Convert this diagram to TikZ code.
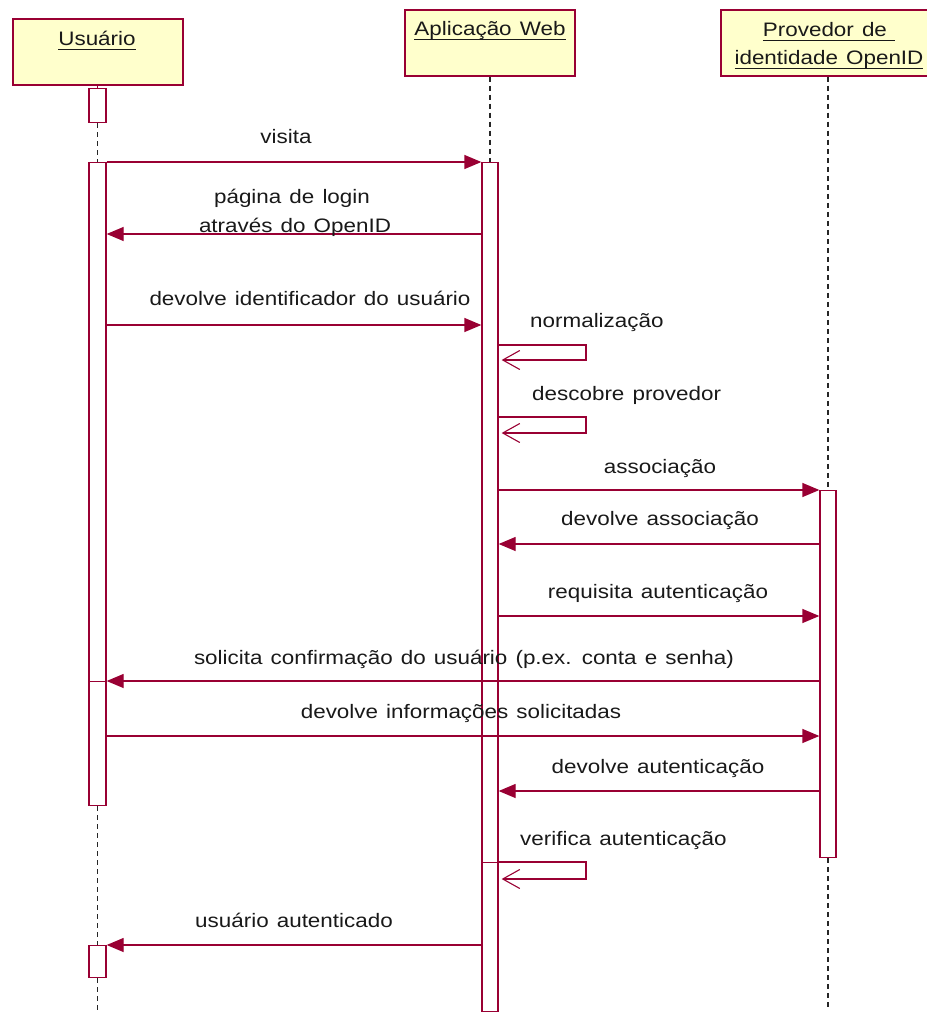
\documentclass[tikz,border=0pt]{standalone}
\usepackage{fontspec}
\setmainfont[FakeStretch=1.15,WordSpace=1.3]{Liberation Sans}
\usetikzlibrary{arrows.meta}
\definecolor{umlline}{RGB}{153,0,51}
\definecolor{umlfill}{RGB}{255,255,204}
% underline at a fixed depth below the baseline (cedillas cross it)
\newsavebox\ulsave
\newcommand\ulbox[1]{\sbox\ulsave{#1}\rlap{\rule[-4.5pt]{\wd\ulsave}{1.3pt}}\usebox\ulsave}
\begin{document}
\begin{tikzpicture}[x=1pt,y=-1pt,
  actorbox/.style={draw=umlline, fill=umlfill, line width=1.5pt, minimum height=66pt, inner sep=0pt},
  actbar/.style={draw=umlline, fill=white, line width=1.3pt, inner sep=0pt, anchor=north},
  life/.style={black!85, line width=1.8pt, dash pattern=on 5pt off 4pt},
  msg/.style={umlline, line width=1.3pt, -{Triangle[length=17pt,width=14pt]}},
  selfmsg/.style={umlline, line width=1.3pt, shorten >=3pt, -{Straight Barb[length=17pt,width=19pt,line width=1.1pt]}},
  lbl/.style={font=\fontsize{19.5}{29}\selectfont, text=black!90, inner sep=0pt, anchor=base},
  lblw/.style={lbl, anchor=base west}]
\useasboundingbox (0,0) rectangle (926,1014);

% participants
\node[actorbox, minimum width=170pt] (ubox) at (98,52) {};
\node[actorbox, minimum width=170pt] (wbox) at (490,43) {};
\node[actorbox, minimum width=216pt] (pbox) at (829,43) {};
\node[lbl] (ulab) at (97,46) {\ulbox{Usuário}};
\node[lbl] (wlab) at (490,36) {\ulbox{Aplicação Web}};
\node[lbl] (plab1) at (829,37) {\ulbox{Provedor de\ }};
\node[lbl] (plab2) at (829,65) {\ulbox{identidade OpenID}};

% activation bars
\node[actbar, minimum width=17pt, minimum height=34pt]  (u1) at (97.5,88) {};
\node[actbar, minimum width=17pt, minimum height=519pt] (u2) at (97.5,162) {};
\node[actbar, minimum width=17pt, minimum height=124pt] (u3) at (97.5,681) {};
\node[actbar, minimum width=17pt, minimum height=32pt]  (u4) at (97.5,945) {};
\node[actbar, minimum width=16pt, minimum height=700pt] (w1) at (490,162) {};
\node[actbar, minimum width=16pt, minimum height=149pt] (w2) at (490,862) {};
\node[actbar, minimum width=16pt, minimum height=367pt] (p1) at (828,490) {};

% lifelines
\coordinate (uend) at (97.5,1014);
\coordinate (pend) at (828,1010);
\draw[umlline, line width=1.3pt] (u1.north |- ubox.south) -- (u1.north);
\draw[life] (u1.south) -- (u2.north);
\draw[life] (u3.south) -- (u4.north);
\draw[life] (u4.south) -- (uend);
\draw[life] (w1.north |- wbox.south) -- (w1.north);
\draw[life] (p1.north |- pbox.south) -- (p1.north);
\draw[life] (p1.south) -- (pend);

% message levels
\coordinate (y1) at (0,162);
\coordinate (y2) at (0,234);
\coordinate (y3) at (0,325);
\coordinate (s1a) at (586,345);
\coordinate (s1b) at (586,360);
\coordinate (s2a) at (586,417);
\coordinate (s2b) at (586,433);
\coordinate (y6) at (0,490);
\coordinate (y7) at (0,544);
\coordinate (y8) at (0,616);
\coordinate (y9) at (0,681);
\coordinate (y10) at (0,736);
\coordinate (y11) at (0,791);
\coordinate (s3a) at (586,862);
\coordinate (s3b) at (586,879);
\coordinate (y13) at (0,945);

% messages
\draw[msg] (u2.east |- y1) -- (w1.west |- y1);
\node[lbl] (t1) at (286,143.5) {visita};

\draw[msg] (w1.west |- y2) -- (u2.east |- y2);
\node[lbl] (t2a) at (292,203) {página de login};
\node[lbl] (t2b) at (295,232) {através do OpenID};

\draw[msg] (u2.east |- y3) -- (w1.west |- y3);
\node[lbl] (t3) at (310,305) {devolve identificador do usuário};

\draw[selfmsg] (w1.east |- s1a) -- (s1a) -- (s1b) -- (w1.east |- s1b);
\node[lblw] (t4) at (530,327) {normalização};

\draw[selfmsg] (w1.east |- s2a) -- (s2a) -- (s2b) -- (w1.east |- s2b);
\node[lblw] (t5) at (532,400) {descobre provedor};

\draw[msg] (w1.east |- y6) -- (p1.west |- y6);
\node[lbl] (t6) at (660,473) {associação};

\draw[msg] (p1.west |- y7) -- (w1.east |- y7);
\node[lbl] (t7) at (660,525) {devolve associação};

\draw[msg] (w1.east |- y8) -- (p1.west |- y8);
\node[lbl] (t8) at (658,598) {requisita autenticação};

\draw[msg] (p1.west |- y9) -- (u2.east |- y9);
\node[lbl] (t9) at (464,664) {solicita confirmação do usuário (p.ex. conta e senha)};

\draw[msg] (u3.east |- y10) -- (p1.west |- y10);
\node[lbl] (t10) at (461,718) {devolve informações solicitadas};

\draw[msg] (p1.west |- y11) -- (w1.east |- y11);
\node[lbl] (t11) at (658,773) {devolve autenticação};

\draw[selfmsg] (w2.east |- s3a) -- (s3a) -- (s3b) -- (w2.east |- s3b);
\node[lblw] (t12) at (520,845) {verifica autenticação};

\draw[msg] (w2.west |- y13) -- (u4.east |- y13);
\node[lbl] (t13) at (294,927) {usuário autenticado};
\end{tikzpicture}
\end{document}
